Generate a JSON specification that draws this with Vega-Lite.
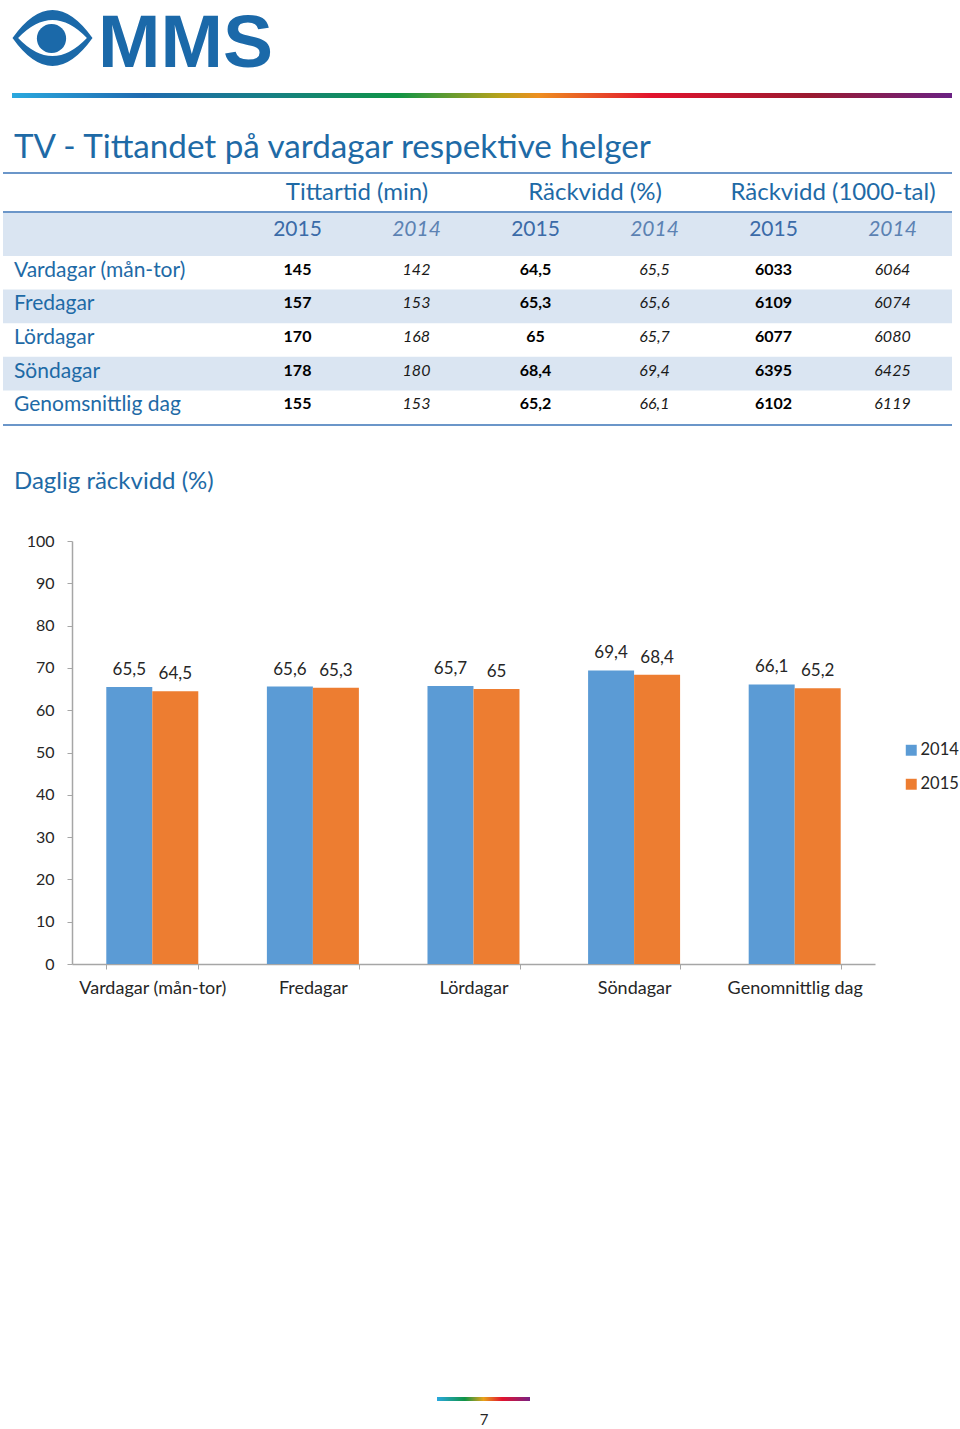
{
  "$schema": "https://vega.github.io/schema/vega-lite/v6.json",
  "width": 960,
  "height": 1429,
  "autosize": {"type": "fit", "contains": "padding"},
  "padding": 0,
  "background": "white",
  "config": {
    "view": {"stroke": null},
    "font": "Lato",
    "locale": {"number": {"decimal": ",", "thousands": " ", "grouping": [3], "currency": ["", " kr"]}}
  },
  "datasets": {
    "tab": [
      {"dag": "Vardagar (mån-tor)", "matt": "Tittartid (min)", "ar": "2015", "v": 145},
      {"dag": "Vardagar (mån-tor)", "matt": "Tittartid (min)", "ar": "2014", "v": 142},
      {"dag": "Vardagar (mån-tor)", "matt": "Räckvidd (%)", "ar": "2015", "v": 64.5},
      {"dag": "Vardagar (mån-tor)", "matt": "Räckvidd (%)", "ar": "2014", "v": 65.5},
      {"dag": "Vardagar (mån-tor)", "matt": "Räckvidd (1000-tal)", "ar": "2015", "v": 6033},
      {"dag": "Vardagar (mån-tor)", "matt": "Räckvidd (1000-tal)", "ar": "2014", "v": 6064},
      {"dag": "Fredagar", "matt": "Tittartid (min)", "ar": "2015", "v": 157},
      {"dag": "Fredagar", "matt": "Tittartid (min)", "ar": "2014", "v": 153},
      {"dag": "Fredagar", "matt": "Räckvidd (%)", "ar": "2015", "v": 65.3},
      {"dag": "Fredagar", "matt": "Räckvidd (%)", "ar": "2014", "v": 65.6},
      {"dag": "Fredagar", "matt": "Räckvidd (1000-tal)", "ar": "2015", "v": 6109},
      {"dag": "Fredagar", "matt": "Räckvidd (1000-tal)", "ar": "2014", "v": 6074},
      {"dag": "Lördagar", "matt": "Tittartid (min)", "ar": "2015", "v": 170},
      {"dag": "Lördagar", "matt": "Tittartid (min)", "ar": "2014", "v": 168},
      {"dag": "Lördagar", "matt": "Räckvidd (%)", "ar": "2015", "v": 65},
      {"dag": "Lördagar", "matt": "Räckvidd (%)", "ar": "2014", "v": 65.7},
      {"dag": "Lördagar", "matt": "Räckvidd (1000-tal)", "ar": "2015", "v": 6077},
      {"dag": "Lördagar", "matt": "Räckvidd (1000-tal)", "ar": "2014", "v": 6080},
      {"dag": "Söndagar", "matt": "Tittartid (min)", "ar": "2015", "v": 178},
      {"dag": "Söndagar", "matt": "Tittartid (min)", "ar": "2014", "v": 180},
      {"dag": "Söndagar", "matt": "Räckvidd (%)", "ar": "2015", "v": 68.4},
      {"dag": "Söndagar", "matt": "Räckvidd (%)", "ar": "2014", "v": 69.4},
      {"dag": "Söndagar", "matt": "Räckvidd (1000-tal)", "ar": "2015", "v": 6395},
      {"dag": "Söndagar", "matt": "Räckvidd (1000-tal)", "ar": "2014", "v": 6425},
      {"dag": "Genomsnittlig dag", "matt": "Tittartid (min)", "ar": "2015", "v": 155},
      {"dag": "Genomsnittlig dag", "matt": "Tittartid (min)", "ar": "2014", "v": 153},
      {"dag": "Genomsnittlig dag", "matt": "Räckvidd (%)", "ar": "2015", "v": 65.2},
      {"dag": "Genomsnittlig dag", "matt": "Räckvidd (%)", "ar": "2014", "v": 66.1},
      {"dag": "Genomsnittlig dag", "matt": "Räckvidd (1000-tal)", "ar": "2015", "v": 6102},
      {"dag": "Genomsnittlig dag", "matt": "Räckvidd (1000-tal)", "ar": "2014", "v": 6119}
    ],
    "diagram": [
      {"dag": "Vardagar (mån-tor)", "ar": "2014", "v": 65.5},
      {"dag": "Vardagar (mån-tor)", "ar": "2015", "v": 64.5},
      {"dag": "Fredagar", "ar": "2014", "v": 65.6},
      {"dag": "Fredagar", "ar": "2015", "v": 65.3},
      {"dag": "Lördagar", "ar": "2014", "v": 65.7},
      {"dag": "Lördagar", "ar": "2015", "v": 65},
      {"dag": "Söndagar", "ar": "2014", "v": 69.4},
      {"dag": "Söndagar", "ar": "2015", "v": 68.4},
      {"dag": "Genomnittlig dag", "ar": "2014", "v": 66.1},
      {"dag": "Genomnittlig dag", "ar": "2015", "v": 65.2}
    ]
  },
  "layer": [
    {
      "data": {"values": [{}]},
      "mark": {"type": "rect", "fill": {"gradient": "linear", "stops": [
        {"offset": 0, "color": "#2aa8de"},
        {"offset": 0.14, "color": "#1f6bb0"},
        {"offset": 0.27, "color": "#177f86"},
        {"offset": 0.41, "color": "#0f9446"},
        {"offset": 0.52, "color": "#b8a21a"},
        {"offset": 0.56, "color": "#ee8f20"},
        {"offset": 0.68, "color": "#e2132e"},
        {"offset": 0.85, "color": "#9a1a30"},
        {"offset": 1, "color": "#6a2183"}
      ]}},
      "encoding": {"x": {"value": 12}, "x2": {"value": 952}, "y": {"value": 93}, "y2": {"value": 98}}
    },
    {
      "data": {"values": [{}]},
      "mark": {"type": "point", "filled": true, "color": "#1b69a9", "opacity": 1, "size": 6400,
        "shape": "M -1 0 Q 0 -1.4 1 0 Q 0 1.4 -1 0 Z M -0.86 0 Q 0 0.9 0.86 0 Q 0 -0.9 -0.86 0 Z"},
      "encoding": {"x": {"value": 52.5}, "y": {"value": 38}}
    },
    {
      "data": {"values": [{}]},
      "mark": {"type": "point", "filled": true, "color": "#1b69a9", "opacity": 1, "size": 855, "shape": "circle"},
      "encoding": {"x": {"value": 51.5}, "y": {"value": 38.5}}
    },
    {
      "data": {"values": [{}]},
      "mark": {"type": "text", "text": "MMS", "font": "Liberation Sans", "fontWeight": "bold", "fontSize": 75, "align": "left", "baseline": "alphabetic", "color": "#1b69a9"},
      "encoding": {"x": {"value": 98}, "y": {"value": 67}}
    },
    {
      "data": {"values": [{}]},
      "mark": {"type": "text", "text": "TV - Tittandet på vardagar respektive helger", "fontSize": 33.2, "align": "left", "baseline": "alphabetic", "color": "#1e6aa6"},
      "encoding": {"x": {"value": 14}, "y": {"value": 158}}
    },
    {
      "data": {"values": [{}]},
      "mark": {"type": "rect", "color": "#dae5f2"},
      "encoding": {"x": {"value": 3}, "x2": {"value": 952}, "y": {"value": 213}, "y2": {"value": 256}}
    },
    {
      "data": {"name": "tab"},
      "transform": [{"filter": "datum.matt == 'Tittartid (min)' && datum.ar == '2015' && (datum.dag == 'Fredagar' || datum.dag == 'Söndagar')"}],
      "mark": {"type": "rect", "color": "#dae5f2"},
      "encoding": {
        "x": {"value": 3}, "x2": {"value": 952},
        "y": {"field": "dag", "type": "nominal", "axis": null,
          "scale": {"type": "band", "domain": ["Vardagar (mån-tor)", "Fredagar", "Lördagar", "Söndagar", "Genomsnittlig dag"], "range": [256, 424], "paddingInner": 0, "paddingOuter": 0}}
      }
    },
    {
      "data": {"values": [{}]},
      "mark": {"type": "rule", "color": "#6b96c9", "strokeWidth": 2},
      "encoding": {"x": {"value": 3}, "x2": {"value": 952}, "y": {"value": 173}}
    },
    {
      "data": {"values": [{}]},
      "mark": {"type": "rule", "color": "#6b96c9", "strokeWidth": 2},
      "encoding": {"x": {"value": 3}, "x2": {"value": 952}, "y": {"value": 212}}
    },
    {
      "data": {"values": [{}]},
      "mark": {"type": "rule", "color": "#6b96c9", "strokeWidth": 2},
      "encoding": {"x": {"value": 3}, "x2": {"value": 952}, "y": {"value": 425}}
    },
    {
      "data": {"name": "tab"},
      "transform": [{"filter": "datum.dag == 'Vardagar (mån-tor)' && datum.ar == '2015'"}],
      "mark": {"type": "text", "fontSize": 24, "baseline": "middle", "color": "#1e6aa6"},
      "encoding": {
        "x": {"field": "matt", "type": "nominal", "axis": null,
          "scale": {"type": "band", "domain": ["Tittartid (min)", "Räckvidd (%)", "Räckvidd (1000-tal)"], "range": [238, 952], "paddingInner": 0, "paddingOuter": 0}},
        "y": {"value": 193},
        "text": {"field": "matt"}
      }
    },
    {
      "data": {"name": "tab"},
      "transform": [{"filter": "datum.dag == 'Vardagar (mån-tor)' && datum.ar == '2015'"}],
      "mark": {"type": "text", "fontSize": 21, "baseline": "middle", "color": "#3b6ba8"},
      "encoding": {
        "x": {"field": "matt", "type": "nominal", "axis": null,
          "scale": {"type": "band", "domain": ["Tittartid (min)", "Räckvidd (%)", "Räckvidd (1000-tal)"], "range": [238, 952], "paddingInner": 0, "paddingOuter": 0}},
        "xOffset": {"field": "ar", "type": "nominal", "scale": {"type": "band", "domain": ["2015", "2014"], "range": [0, 238], "paddingInner": 0, "paddingOuter": 0}},
        "y": {"value": 230},
        "text": {"field": "ar"}
      }
    },
    {
      "data": {"name": "tab"},
      "transform": [{"filter": "datum.dag == 'Vardagar (mån-tor)' && datum.ar == '2014'"}],
      "mark": {"type": "text", "fontSize": 21, "fontStyle": "italic", "baseline": "middle", "color": "#5c82b3"},
      "encoding": {
        "x": {"field": "matt", "type": "nominal", "axis": null,
          "scale": {"type": "band", "domain": ["Tittartid (min)", "Räckvidd (%)", "Räckvidd (1000-tal)"], "range": [238, 952], "paddingInner": 0, "paddingOuter": 0}},
        "xOffset": {"field": "ar", "type": "nominal", "scale": {"type": "band", "domain": ["2015", "2014"], "range": [0, 238], "paddingInner": 0, "paddingOuter": 0}},
        "y": {"value": 230},
        "text": {"field": "ar"}
      }
    },
    {
      "data": {"name": "tab"},
      "transform": [{"filter": "datum.matt == 'Tittartid (min)' && datum.ar == '2015'"}],
      "mark": {"type": "text", "fontSize": 21, "align": "left", "baseline": "middle", "dy": -2, "color": "#1e6aa6"},
      "encoding": {
        "x": {"value": 14},
        "y": {"field": "dag", "type": "nominal", "axis": null,
          "scale": {"type": "band", "domain": ["Vardagar (mån-tor)", "Fredagar", "Lördagar", "Söndagar", "Genomsnittlig dag"], "range": [256, 424], "paddingInner": 0, "paddingOuter": 0}},
        "text": {"field": "dag"}
      }
    },
    {
      "data": {"name": "tab"},
      "transform": [{"filter": "datum.ar == '2015'"}],
      "mark": {"type": "text", "fontSize": 16, "fontWeight": "bold", "baseline": "middle", "dy": -3, "color": "#000000"},
      "encoding": {
        "x": {"field": "matt", "type": "nominal", "axis": null,
          "scale": {"type": "band", "domain": ["Tittartid (min)", "Räckvidd (%)", "Räckvidd (1000-tal)"], "range": [238, 952], "paddingInner": 0, "paddingOuter": 0}},
        "xOffset": {"field": "ar", "type": "nominal", "scale": {"type": "band", "domain": ["2015", "2014"], "range": [0, 238], "paddingInner": 0, "paddingOuter": 0}},
        "y": {"field": "dag", "type": "nominal", "axis": null,
          "scale": {"type": "band", "domain": ["Vardagar (mån-tor)", "Fredagar", "Lördagar", "Söndagar", "Genomsnittlig dag"], "range": [256, 424], "paddingInner": 0, "paddingOuter": 0}},
        "text": {"field": "v", "type": "quantitative", "format": ".4~r"}
      }
    },
    {
      "data": {"name": "tab"},
      "transform": [{"filter": "datum.ar == '2014'"}],
      "mark": {"type": "text", "fontSize": 16, "fontStyle": "italic", "baseline": "middle", "dy": -3, "color": "#1a1a1a"},
      "encoding": {
        "x": {"field": "matt", "type": "nominal", "axis": null,
          "scale": {"type": "band", "domain": ["Tittartid (min)", "Räckvidd (%)", "Räckvidd (1000-tal)"], "range": [238, 952], "paddingInner": 0, "paddingOuter": 0}},
        "xOffset": {"field": "ar", "type": "nominal", "scale": {"type": "band", "domain": ["2015", "2014"], "range": [0, 238], "paddingInner": 0, "paddingOuter": 0}},
        "y": {"field": "dag", "type": "nominal", "axis": null,
          "scale": {"type": "band", "domain": ["Vardagar (mån-tor)", "Fredagar", "Lördagar", "Söndagar", "Genomsnittlig dag"], "range": [256, 424], "paddingInner": 0, "paddingOuter": 0}},
        "text": {"field": "v", "type": "quantitative", "format": ".4~r"}
      }
    },
    {
      "data": {"values": [{}]},
      "mark": {"type": "text", "text": "Daglig räckvidd (%)", "fontSize": 24, "align": "left", "baseline": "middle", "color": "#1e6aa6"},
      "encoding": {"x": {"value": 14}, "y": {"value": 482}}
    },
    {
      "data": {"name": "diagram"},
      "mark": {"type": "bar"},
      "encoding": {
        "x": {"field": "dag", "type": "nominal", "sort": null,
          "scale": {"type": "band", "domain": ["Vardagar (mån-tor)", "Fredagar", "Lördagar", "Söndagar", "Genomnittlig dag"], "range": [72, 875], "paddingInner": 0.427, "paddingOuter": 0.2135},
          "axis": {"orient": "bottom", "offset": -465, "title": null, "tickBand": "extent", "tickSize": 5, "labelAngle": 0,
            "labelFontSize": 18, "labelPadding": 10, "labelColor": "#262626", "domainColor": "#a6a6a6", "tickColor": "#a6a6a6", "domainWidth": 1.5}},
        "xOffset": {"field": "ar", "type": "nominal", "scale": {"type": "band", "domain": ["2014", "2015"], "range": [0, 92], "paddingInner": 0, "paddingOuter": 0}},
        "y": {"field": "v", "type": "quantitative",
          "scale": {"domain": [0, 100], "range": [964, 541], "nice": false, "zero": true},
          "axis": {"orient": "left", "offset": -72, "title": null, "grid": false, "values": [0, 10, 20, 30, 40, 50, 60, 70, 80, 90, 100],
            "tickSize": 5, "labelFontSize": 16, "labelPadding": 13, "labelColor": "#262626", "domainColor": "#a6a6a6", "tickColor": "#a6a6a6", "domainWidth": 1.5}},
        "color": {"field": "ar", "type": "nominal",
          "scale": {"domain": ["2014", "2015"], "range": ["#5b9bd5", "#ed7d31"]},
          "legend": {"orient": "none", "legendX": 903, "legendY": 742, "title": null, "symbolType": "square", "symbolSize": 120,
            "labelFontSize": 16.5, "labelColor": "#262626", "rowPadding": 17, "labelOffset": 1, "symbolStrokeWidth": 0}}
      }
    },
    {
      "data": {"name": "diagram"},
      "mark": {"type": "text", "fontSize": 17, "baseline": "bottom", "dy": -8, "color": "#262626"},
      "encoding": {
        "x": {"field": "dag", "type": "nominal", "sort": null, "axis": null,
          "scale": {"type": "band", "domain": ["Vardagar (mån-tor)", "Fredagar", "Lördagar", "Söndagar", "Genomnittlig dag"], "range": [72, 875], "paddingInner": 0.427, "paddingOuter": 0.2135}},
        "xOffset": {"field": "ar", "type": "nominal", "scale": {"type": "band", "domain": ["2014", "2015"], "range": [0, 92], "paddingInner": 0, "paddingOuter": 0}},
        "y": {"field": "v", "type": "quantitative", "axis": null,
          "scale": {"domain": [0, 100], "range": [964, 541], "nice": false, "zero": true}},
        "text": {"field": "v", "type": "quantitative", "format": ".4~r"}
      }
    },
    {
      "data": {"values": [{}]},
      "mark": {"type": "rect", "fill": {"gradient": "linear", "stops": [
        {"offset": 0, "color": "#2aa8de"},
        {"offset": 0.3, "color": "#0f9446"},
        {"offset": 0.5, "color": "#e8a21a"},
        {"offset": 0.7, "color": "#e2132e"},
        {"offset": 1, "color": "#7a2183"}
      ]}},
      "encoding": {"x": {"value": 437}, "x2": {"value": 530}, "y": {"value": 1397}, "y2": {"value": 1401}}
    },
    {
      "data": {"values": [{}]},
      "mark": {"type": "text", "text": "7", "fontSize": 15, "align": "center", "baseline": "middle", "color": "#262626"},
      "encoding": {"x": {"value": 484}, "y": {"value": 1420}}
    }
  ],
  "resolve": {
    "scale": {"x": "independent", "y": "independent", "xOffset": "independent", "color": "independent"},
    "axis": {"x": "independent", "y": "independent"}
  }
}
